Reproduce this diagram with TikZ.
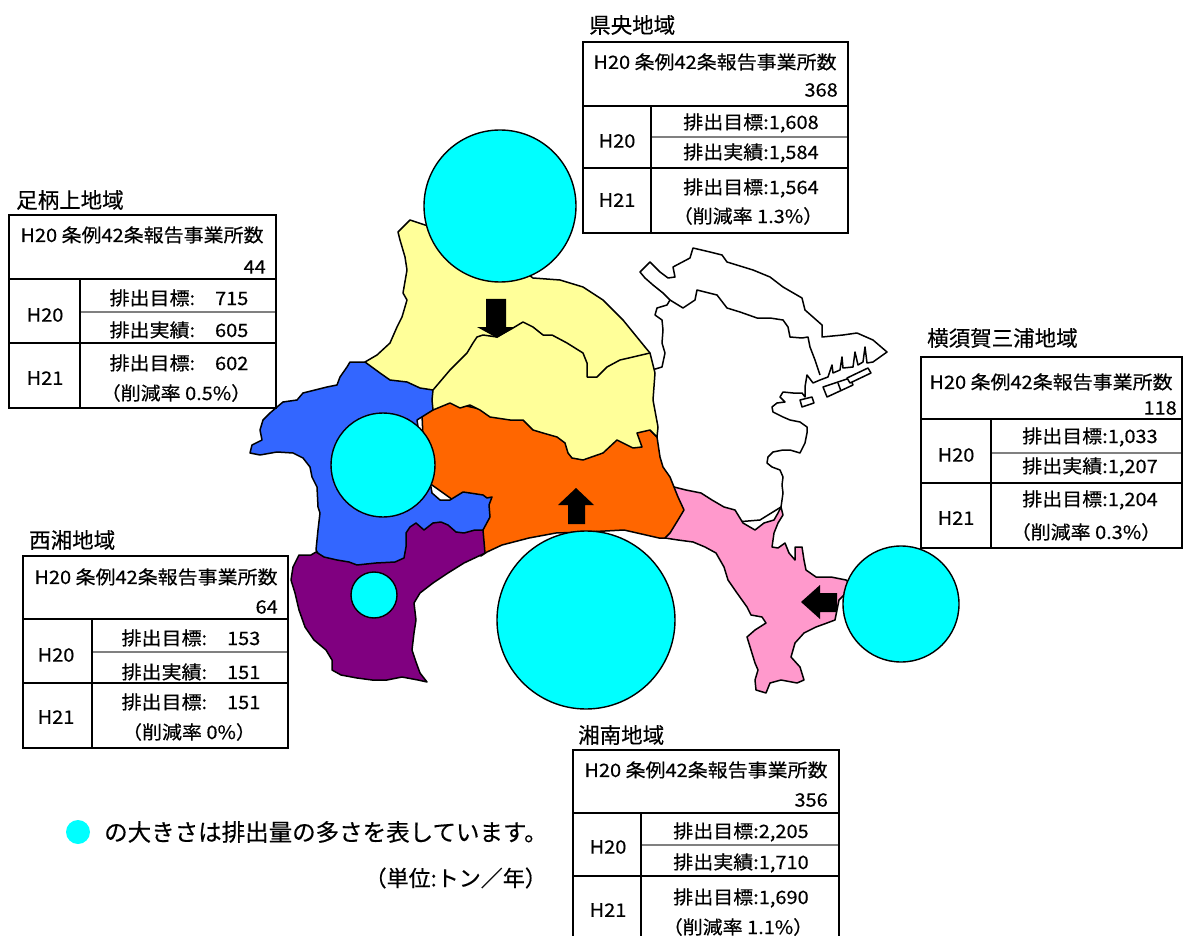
\documentclass[tikz,border=0pt]{standalone}
\usepackage{fontspec}
\setmainfont[FakeBold=0.4]{Noto Sans CJK JP}
\newfontfamily\tabfont[FakeStretch=1.08,FakeBold=0.4]{Noto Sans CJK JP}

\definecolor{kenou}{HTML}{FFFF99}
\definecolor{ashigara}{HTML}{3366FF}
\definecolor{seisho}{HTML}{800080}
\definecolor{shonan}{HTML}{FF6600}
\definecolor{miura}{HTML}{FF99CC}
\definecolor{bubble}{HTML}{00FFFF}

\tikzset{
  region/.style={draw=black, line width=1.5pt, line join=round},
  bubbleshape/.style={fill=bubble, draw=black, line width=1.4pt},
  tabline/.style={line width=1.6pt},
  midline/.style={line width=2.4pt, color=gray},
  celltext/.style={inner sep=0pt, font=\tabfont\fontsize{18.5pt}{18.5pt}\selectfont},
  areaname/.style={inner sep=0pt, anchor=west, font=\fontsize{21.5pt}{21.5pt}\selectfont},
}

\begin{document}
\begin{tikzpicture}[x=1pt,y=-1pt]
\useasboundingbox (0,0) rectangle (1184,936);

% map
\draw[region, fill=white] (640,272) -- (650,262) -- (660,272) -- (668,278) -- (675,277) -- (673,267)
  -- (690,258) -- (693,248) -- (710,252) -- (722,255) -- (727,262) -- (753,270) -- (770,277)
  -- (783,287) -- (802,298) -- (805,310) -- (822,325) -- (822,337) -- (843,335) -- (857,333)
  -- (873,340) -- (887,352) -- (873,362) -- (867,363) -- (865,347) -- (863,362) -- (858,365)
  -- (855,352) -- (853,367) -- (843,368) -- (842,357) -- (840,370) -- (833,373) -- (832,365)
  -- (828,377) -- (820,380) -- (813,383) -- (807,375) -- (805,387) -- (805,397) -- (802,393)
  -- (793,393) -- (783,392) -- (780,397) -- (785,402) -- (777,403) -- (772,407) -- (773,412)
  -- (783,417) -- (790,420) -- (800,422) -- (807,427) -- (807,433) -- (805,443) -- (800,453)
  -- (790,450) -- (783,450) -- (773,452) -- (768,457) -- (767,463) -- (772,467) -- (780,470)
  -- (783,477) -- (782,485) -- (783,493) -- (781,507) -- (760,520) -- (700,525) -- (660,520)
  -- (645,470) -- (645,370) -- (652,370) -- (662,367) -- (665,353) -- (662,343) -- (663,330)
  -- (662,320) -- (655,315) -- (657,308) -- (667,305) -- (670,300) -- (663,293) -- (653,285)
  -- (645,278) -- cycle;

\draw[region, fill=miura] (674,487) -- (686,490) -- (701,493) -- (712,500) -- (724,507) -- (735,510)
  -- (743,523) -- (755,530) -- (764,523) -- (774,520) -- (778,513) -- (781,507) -- (783,515)
  -- (778,523) -- (774,533) -- (772,547) -- (778,548) -- (785,543) -- (789,553) -- (795,560)
  -- (795,547) -- (802,547) -- (804,560) -- (806,570) -- (816,577) -- (831,577) -- (846,580)
  -- (854,587) -- (846,593) -- (839,600) -- (837,610) -- (835,620) -- (827,623) -- (816,627)
  -- (804,633) -- (795,643) -- (791,657) -- (800,667) -- (804,680) -- (797,683) -- (781,680)
  -- (770,683) -- (766,693) -- (756,690) -- (755,680) -- (758,670) -- (755,663) -- (751,650)
  -- (747,637) -- (755,630) -- (766,623) -- (762,617) -- (751,615) -- (747,607) -- (737,593)
  -- (728,580) -- (724,567) -- (716,553) -- (705,547) -- (693,542) -- (678,540) -- (665,538)
  -- (655,500) -- (665,480) -- cycle;

\draw[region, fill=shonan] (657,437) -- (660,457) -- (663,467) -- (670,477) -- (674,487) -- (678,497)
  -- (684,510) -- (678,520) -- (670,533) -- (665,538) -- (659,538) -- (624,530) -- (586,532)
  -- (556,533) -- (529,538) -- (502,545) -- (487,552) -- (481,556) -- (470,545) -- (460,505)
  -- (425,480) -- (422,415) -- (440,400) -- (550,425) -- (640,430) -- (648,428) -- cycle;

\draw[region, fill=kenou] (398,232) -- (410,220) -- (425,225) -- (480,240) -- (533,278) -- (560,280)
  -- (583,287) -- (603,300) -- (623,320) -- (645,347) -- (650,353) -- (655,373) -- (653,400)
  -- (658,427) -- (657,437) -- (650,430) -- (637,433) -- (642,447) -- (633,448) -- (617,440)
  -- (603,453) -- (583,460) -- (572,458) -- (568,453) -- (565,443) -- (557,437) -- (543,433)
  -- (533,430) -- (523,420) -- (510,420) -- (490,417) -- (480,410) -- (470,405) -- (460,408)
  -- (450,403) -- (433,410) -- (425,400) -- (380,385) -- (365,362) -- (377,355) -- (390,343)
  -- (397,327) -- (402,317) -- (407,300) -- (403,293) -- (407,270) -- (405,257) -- (400,240)
  -- cycle;
\draw[region] (433,390) -- (450,370) -- (467,353) -- (473,343) -- (477,337) -- (483,335) -- (497,337)
  -- (513,328) -- (523,322) -- (533,327) -- (543,335) -- (552,335) -- (567,343) -- (583,353)
  -- (587,363) -- (587,377) -- (597,377) -- (607,367) -- (620,360) -- (633,357) -- (650,353);

\draw[region, fill=ashigara] (365,362) -- (350,362) -- (347,367) -- (340,377) -- (337,385) -- (327,387)
  -- (315,390) -- (303,393) -- (297,400) -- (283,402) -- (277,407) -- (270,413) -- (263,420)
  -- (260,430) -- (262,440) -- (252,445) -- (250,453) -- (260,455) -- (277,452) -- (293,453)
  -- (303,458) -- (310,467) -- (312,477) -- (317,487) -- (318,507) -- (320,513) -- (318,530)
  -- (316,550) -- (330,575) -- (405,575) -- (470,545) -- (483,530) -- (490,517) -- (489,505)
  -- (492,497) -- (487,498) -- (483,495) -- (470,493) -- (463,492) -- (450,500) -- (440,500)
  -- (432,493) -- (428,470) -- (420,440) -- (417,420) -- (433,410) -- (432,400) -- (433,390)
  -- (420,388) -- (407,382) -- (390,380) -- (380,373) -- cycle;

\draw[region, fill=seisho] (299,555) -- (311,555) -- (316,552) -- (324,557) -- (337,560) -- (349,562)
  -- (357,565) -- (376,563) -- (395,562) -- (404,558) -- (406,547) -- (406,533) -- (410,527)
  -- (416,523) -- (424,530) -- (433,523) -- (441,522) -- (448,525) -- (456,532) -- (464,533)
  -- (475,530) -- (483,530) -- (485,553) -- (481,555) -- (464,563) -- (448,573) -- (433,583)
  -- (420,593) -- (414,603) -- (416,620) -- (414,633) -- (412,650) -- (416,662) -- (420,673)
  -- (427,682) -- (418,680) -- (402,677) -- (387,680) -- (372,680) -- (357,678) -- (341,675)
  -- (332,670) -- (332,660) -- (326,650) -- (314,640) -- (305,627) -- (299,610) -- (295,593)
  -- (291,580) -- (293,567) -- cycle;

\draw[region] (670,300) -- (683,308) -- (695,300) -- (697,290) -- (717,295) -- (727,308) -- (740,312)
  -- (757,318) -- (770,318) -- (783,320) -- (788,327) -- (790,337) -- (802,338) -- (808,337)
  -- (810,347) -- (815,360) -- (820,375);
\draw[region, fill=white] (823,387) -- (850,378) -- (853,385) -- (827,397) -- cycle;
\draw[region] (838,383) -- (841,391);
\draw[region, fill=white] (847,378) -- (868,368) -- (871,373) -- (850,383) -- cycle;
\draw[region, fill=white] (800,400) -- (812,397) -- (814,403) -- (802,407) -- cycle;

% bubbles
\draw[bubbleshape] (500,206) circle[radius=76pt];
\draw[bubbleshape] (383,465) circle[radius=52pt];
\draw[bubbleshape] (374,595) circle[radius=23pt];
\draw[bubbleshape] (586,620) circle[radius=89pt];
\draw[bubbleshape] (901,604) circle[radius=58pt];

% arrows
\fill (486,299) -- (506,299) -- (506,327) -- (515,327) -- (497,338) -- (477,327) -- (486,327) -- cycle;
\fill (568,524) -- (585,524) -- (585,505) -- (594,505) -- (576,488) -- (558,505) -- (568,505) -- cycle;
\fill (837,593) -- (820,593) -- (820,585) -- (801,602) -- (820,619) -- (820,612) -- (837,612) -- cycle;

% kenou table
\draw[tabline] (583,42) rectangle (848,233);
\draw[tabline] (583,106) -- (848,106);
\draw[tabline] (583,168) -- (848,168);
\draw[tabline] (651,106) -- (651,233);
\draw[midline] (652,137) -- (847,137);
\node[areaname] (kenouT) at (589,25) {県央地域};
\node[celltext] (kenouH) at (715,62) {H20 条例42条報告事業所数};
\node[celltext, anchor=east] (kenouN) at (838,90) {368};
\node[celltext] (kenouY1) at (617,141) {H20};
\node[celltext] (kenouY2) at (617,200) {H21};
\node[celltext] (kenouA) at (751,123) {排出目標:1,608};
\node[celltext] (kenouB) at (751,153) {排出実績:1,584};
\node[celltext] (kenouC) at (751,188) {排出目標:1,564};
\node[celltext] (kenouD) at (748,216) {（削減率 1.3\%）};

% ashigara table
\draw[tabline] (9,215) rectangle (276,408);
\draw[tabline] (9,279) -- (276,279);
\draw[tabline] (9,343) -- (276,343);
\draw[tabline] (80,279) -- (80,408);
\draw[midline] (81,312) -- (275,312);
\node[areaname] (ashigaraT) at (16,200) {足柄上地域};
\node[celltext] (ashigaraH) at (142,235) {H20 条例42条報告事業所数};
\node[celltext, anchor=east] (ashigaraN) at (266,267) {44};
\node[celltext] (ashigaraY1) at (45,315) {H20};
\node[celltext] (ashigaraY2) at (45,378) {H21};
\node[celltext] (ashigaraA) at (179,298) {排出目標:　715};
\node[celltext] (ashigaraB) at (179,330) {排出実績:　605};
\node[celltext] (ashigaraC) at (179,363) {排出目標:　602};
\node[celltext] (ashigaraD) at (176,393) {（削減率 0.5\%）};

% seisho table
\draw[tabline] (23,556) rectangle (288,748);
\draw[tabline] (23,619) -- (288,619);
\draw[tabline] (23,683) -- (288,683);
\draw[tabline] (92,619) -- (92,748);
\draw[midline] (93,652) -- (287,652);
\node[areaname] (seishoT) at (29,540) {西湘地域};
\node[celltext] (seishoH) at (156,577) {H20 条例42条報告事業所数};
\node[celltext, anchor=east] (seishoN) at (278,607) {64};
\node[celltext] (seishoY1) at (56,655) {H20};
\node[celltext] (seishoY2) at (56,717) {H21};
\node[celltext] (seishoA) at (191,638) {排出目標:　153};
\node[celltext] (seishoB) at (191,672) {排出実績:　151};
\node[celltext] (seishoC) at (191,702) {排出目標:　151};
\node[celltext] (seishoD) at (189,732) {（削減率 0\%）};

% miura table
\draw[tabline] (921,357) rectangle (1182,548);
\draw[tabline] (921,419) -- (1182,419);
\draw[tabline] (921,483) -- (1182,483);
\draw[tabline] (991,419) -- (991,548);
\draw[midline] (992,453) -- (1181,453);
\node[areaname] (miuraT) at (927,338) {横須賀三浦地域};
\node[celltext] (miuraH) at (1051,382) {H20 条例42条報告事業所数};
\node[celltext, anchor=east] (miuraN) at (1177,408) {118};
\node[celltext] (miuraY1) at (956,455) {H20};
\node[celltext] (miuraY2) at (956,518) {H21};
\node[celltext] (miuraA) at (1090,437) {排出目標:1,033};
\node[celltext] (miuraB) at (1090,467) {排出実績:1,207};
\node[celltext] (miuraC) at (1090,500) {排出目標:1,204};
\node[celltext] (miuraD) at (1086,532) {（削減率 0.3\%）};

% shonan table
\draw[tabline] (573,936) -- (573,750) -- (839,750) -- (839,936);
\draw[tabline] (573,813) -- (839,813);
\draw[tabline] (573,876) -- (839,876);
\draw[tabline] (641,813) -- (641,936);
\draw[midline] (642,845) -- (838,845);
\node[areaname] (shonanT) at (578,735) {湘南地域};
\node[celltext] (shonanH) at (706,770) {H20 条例42条報告事業所数};
\node[celltext, anchor=east] (shonanN) at (828,800) {356};
\node[celltext] (shonanY1) at (608,847) {H20};
\node[celltext] (shonanY2) at (608,910) {H21};
\node[celltext] (shonanA) at (741,832) {排出目標:2,205};
\node[celltext] (shonanB) at (741,863) {排出実績:1,710};
\node[celltext] (shonanC) at (741,898) {排出目標:1,690};
\node[celltext] (shonanD) at (738,927) {（削減率 1.1\%）};

% legend
\node[circle, fill=bubble, inner sep=0pt, minimum size=24pt] (key) at (78,832) {};
\node[inner sep=0pt, anchor=west, font=\fontsize{23.5pt}{23.5pt}\selectfont] (keytext) at (104,832) {の大きさは排出量の多さを表しています。};
\node[inner sep=0pt, anchor=east, font=\fontsize{22pt}{22pt}\selectfont] (unit) at (547,878) {（単位:トン／年）};
\end{tikzpicture}
\end{document}
